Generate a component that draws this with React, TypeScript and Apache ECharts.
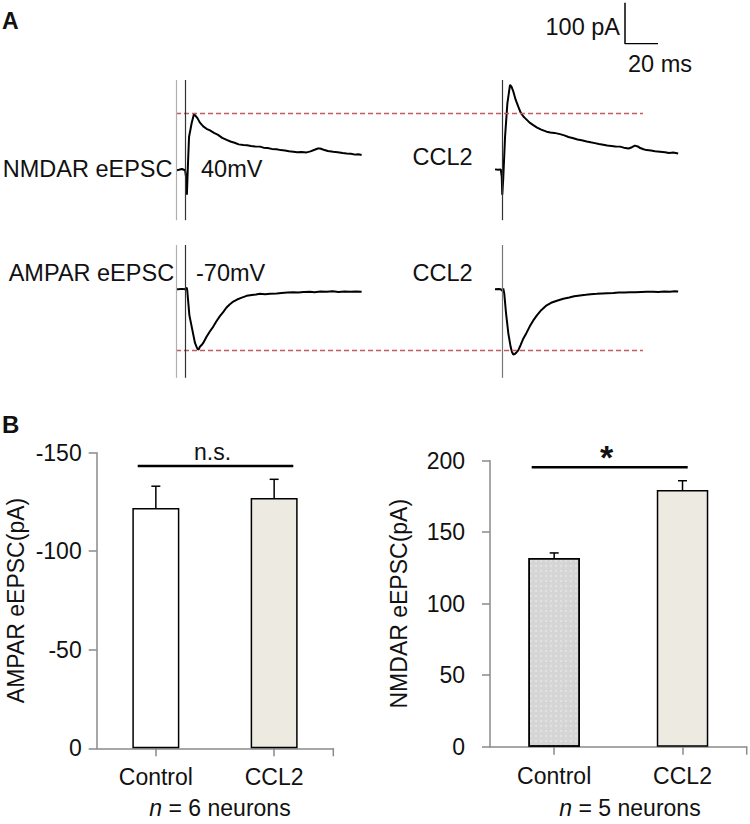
import React, { useEffect, useRef } from "react";
import * as echarts from "echarts";

const FONT = "'Liberation Sans', Arial, Helvetica, sans-serif";

// ---------- Panel A: example traces, [time (ms), current (pA)] ----------
const nmdaControl: number[][] = [
  [0.5, 0], [1.8, 1], [3.6, 3], [5.5, 0], [6.2, -20], [6.6, -60], [7.2, 10], [7.9, 81], [9.5, 115], [10.9, 137],
  [12, 132], [13, 127], [14.5, 116], [16.5, 107], [18.5, 101], [20.6, 97], [23, 91], [25.5, 86], [28, 79], [30.7, 74],
  [33, 70], [35.5, 67], [38, 63], [40.8, 61.5], [43, 61], [45.5, 59], [48, 58], [50.9, 57.5], [53, 55], [55.5, 54],
  [58, 52], [61, 51], [63.5, 49], [66, 48], [68.5, 46], [71.1, 45], [73.5, 44], [76, 44.5], [79.2, 43.4], [81.5, 46],
  [84, 50], [86, 53], [87.3, 53], [89.5, 50], [92, 47], [95.3, 45], [98, 44], [101, 42], [103.4, 41], [106, 40],
  [108.5, 38], [110.5, 39], [112.5, 37],
];
const nmdaCCL2: number[][] = [
  [0, 2], [2, 1], [3.5, 2], [4.1, -16], [4.4, -60], [5, -20], [6.1, 82], [7.5, 163], [9.1, 208], [10, 204],
  [11.1, 192], [12.5, 172], [14.1, 155], [15.5, 141], [17.2, 131], [19, 124], [21, 116], [23.2, 110], [25.5, 104], [28, 99],
  [31.3, 94], [33.5, 92], [36, 91], [39.4, 88], [42, 85], [44.5, 81], [47.5, 78], [50, 75], [52.5, 73], [55.6, 70],
  [58, 68], [60.5, 66], [63, 64], [65.6, 62], [68, 60], [70.5, 59], [73, 58], [75.8, 57.5], [78, 55], [81, 53],
  [83, 56], [84.8, 60], [86.5, 58], [88, 54], [90, 51], [91.9, 49], [94.5, 48], [97, 46], [100, 45], [103, 44],
  [105.5, 42], [108, 43], [111, 41],
];
const ampaControl: number[][] = [
  [0.5, 0], [1.4, 0], [3.5, 1], [5.5, 0], [6.5, 4], [6.8, -2], [8.1, -63], [9.9, -99], [11.5, -131], [12.4, -140],
  [13.1, -146], [13.7, -147], [14.5, -140], [15.5, -136], [16.5, -131], [18.5, -116], [20.5, -103], [22.6, -91], [24.5, -78], [26.5, -66],
  [28.7, -55], [30.5, -45], [32.5, -37], [34.7, -30], [37, -25], [39.5, -21], [42.8, -16], [46, -14], [48.5, -12.5], [50.9, -11],
  [54, -12], [57, -11], [61, -10], [64, -9], [67.5, -8], [71.1, -7.5], [74, -8], [77.5, -6.5], [81.2, -6], [84, -7],
  [87.5, -5.5], [91.3, -6], [95, -5], [98.5, -6.5], [102, -5.5], [105.5, -6], [109, -5.5], [112.5, -6],
];
const ampaCCL2: number[][] = [
  [0, 0], [2, 0.5], [3.5, 0], [4.6, -4], [5.0, 2], [5.6, -10], [6.7, -59], [8.1, -108], [9.5, -141], [10.3, -153],
  [11.1, -159], [12, -158], [13, -154], [14.1, -149], [15.5, -136], [17.2, -120], [19, -107], [21, -91], [23.2, -76], [25.5, -63],
  [28, -51], [31.3, -39], [34, -33], [37.5, -28], [41.4, -23], [45, -20], [48, -17], [51.5, -15], [55, -13.5], [58, -12],
  [61.6, -11], [65, -10], [68, -9.5], [71.7, -9], [75, -8], [78.5, -8], [81.8, -7], [85, -7.5], [88.5, -6.5], [92, -6],
  [95.9, -6], [99, -6.5], [102.5, -5.5], [106, -6], [109, -5], [111, -5.6],
];
const nmdaReference = 140; // pA, control NMDAR peak (dashed line)
const ampaReference = -148; // pA, control AMPAR peak (dashed line)
const stimControl = [0.4, 5.9]; // ms, stimulus artefact lines
const stimCCL2 = [4.1];
const scaleBar: number[][] = [[0, 100], [0, 0], [20, 0]]; // 100 pA / 20 ms

// ---------- Panel B: bar charts ----------
const categories = ["Control", "CCL2"];
const ampaMeans = [-122, -127];
const ampaErrTop = [-133, -136.5];
const ampaTicks = { min: -150, max: 0, interval: 50 };
const nmdaMeans = [132, 179.5];
const nmdaErrTop = [135.5, 186];
const nmdaTicks = { min: 0, max: 200, interval: 50 };

const PX_PER_MS = 1.65;
const PX_PER_PA = 0.41;

const hidden = { show: false };

function traceAxes(left: number, top: number, width: number, yMin: number, yMax: number) {
  return {
    grid: { left, top, width, height: (yMax - yMin) * PX_PER_PA, containLabel: false, outerBoundsMode: "none" },
    x: { type: "value", min: 0, max: width / PX_PER_MS, ...hidden },
    y: { type: "value", min: yMin, max: yMax, ...hidden },
  };
}

const errRender = (params: any, api: any) => {
  const i = api.value(0);
  const p0 = api.coord([i, api.value(1)]);
  const p1 = api.coord([i, api.value(2)]);
  const hw = 4.5;
  const st = { stroke: "#000", lineWidth: 1.5 };
  return {
    type: "group",
    children: [
      { type: "line", shape: { x1: p0[0], y1: p0[1], x2: p1[0], y2: p1[1] }, style: st },
      { type: "line", shape: { x1: p1[0] - hw, y1: p1[1], x2: p1[0] + hw, y2: p1[1] }, style: st },
    ],
  };
};

export default function App() {
  const ref = useRef<HTMLDivElement>(null);
  useEffect(() => {
    if (!ref.current) return;
    const chart = echarts.init(ref.current, undefined, { renderer: "svg" });

    const tl = traceAxes(176, 80, 467, -122, 220);
    const tr = traceAxes(495, 80, 198, -122, 220);
    const bl = traceAxes(176, 245, 467, -216, 108);
    const br = traceAxes(495, 245, 198, -216, 108);

    const axisGray = "#8a8a8a";
    const barAxisX = (labelMargin: number) => ({
      type: "category",
      data: categories,
      axisLine: { show: true, lineStyle: { color: axisGray, width: 1.5 } },
      axisTick: { show: true, alignWithLabel: true, length: 8, lineStyle: { color: axisGray, width: 1.5 } },
      axisLabel: { fontSize: 23, fontFamily: FONT, color: "#111", margin: labelMargin },
      splitLine: { show: false },
    });
    const barAxisY = (t: any, name: string, gap: number, labelMargin: number, inverse: boolean) => ({
      type: "value",
      min: t.min,
      max: t.max,
      interval: t.interval,
      inverse,
      name,
      nameLocation: "middle",
      nameRotate: 90,
      nameGap: gap,
      nameTextStyle: { fontSize: 23, fontFamily: FONT, color: "#111" },
      axisLine: { show: true, lineStyle: { color: axisGray, width: 1.5 } },
      axisTick: { show: true, length: 8, lineStyle: { color: axisGray, width: 1.5 } },
      axisLabel: { fontSize: 23, fontFamily: FONT, color: "#111", margin: labelMargin },
      splitLine: { show: false },
    });

    const traceLine = (data: number[][], axis: number, marks: any[]) => ({
      type: "line",
      xAxisIndex: axis,
      yAxisIndex: axis,
      data,
      showSymbol: false,
      symbol: "none",
      lineStyle: { color: "#000", width: 2 },
      markLine: {
        silent: true,
        symbol: ["none", "none"],
        label: { show: false },
        animation: false,
        data: marks,
      },
    });
    const refMark = (v: number) => ({ yAxis: v, lineStyle: { color: "#c65a5a", type: [5, 3], width: 1.3 } });
    const stimMark = (v: number, color: string) => ({ xAxis: v, lineStyle: { color, type: "solid", width: 1.2 } });

    const txt = (text: string, x: number, y: number, opts: any = {}) => ({
      type: "text",
      x,
      y,
      silent: true,
      style: {
        text,
        fill: "#111",
        fontSize: 23.5,
        fontFamily: FONT,
        align: "left",
        verticalAlign: "middle",
        ...opts,
      },
    });

    const option: any = {
      animation: false,
      backgroundColor: "#fff",
      grid: [
        tl.grid, tr.grid, bl.grid, br.grid,
        { left: 625, top: 2.7, width: scaleBar[2][0] * PX_PER_MS, height: scaleBar[0][1] * PX_PER_PA, containLabel: false, outerBoundsMode: "none" },
        { left: 96.7, top: 452.7, width: 236.6, height: 295.6, containLabel: false, outerBoundsMode: "none" },
        { left: 490, top: 460.7, width: 256.7, height: 286, containLabel: false, outerBoundsMode: "none" },
      ],
      xAxis: [
        { ...tl.x, gridIndex: 0 }, { ...tr.x, gridIndex: 1 }, { ...bl.x, gridIndex: 2 }, { ...br.x, gridIndex: 3 },
        { type: "value", min: 0, max: 20, gridIndex: 4, ...hidden },
        { ...barAxisX(17), gridIndex: 5 },
        { ...barAxisX(18), gridIndex: 6 },
      ],
      yAxis: [
        { ...tl.y, gridIndex: 0 }, { ...tr.y, gridIndex: 1 }, { ...bl.y, gridIndex: 2 }, { ...br.y, gridIndex: 3 },
        { type: "value", min: 0, max: 100, gridIndex: 4, ...hidden },
        { ...barAxisY(ampaTicks, "AMPAR eEPSC(pA)", 69, 15, true), gridIndex: 5 },
        { ...barAxisY(nmdaTicks, "NMDAR eEPSC(pA)", 80, 25, false), gridIndex: 6 },
      ],
      series: [
        traceLine(nmdaControl, 0, [refMark(nmdaReference), stimMark(stimControl[0], "#b0b0b0"), stimMark(stimControl[1], "#333")]),
        traceLine(nmdaCCL2, 1, [stimMark(stimCCL2[0], "#333")]),
        traceLine(ampaControl, 2, [refMark(ampaReference), stimMark(stimControl[0], "#b0b0b0"), stimMark(stimControl[1], "#333")]),
        traceLine(ampaCCL2, 3, [stimMark(stimCCL2[0], "#777")]),
        {
          type: "line", xAxisIndex: 4, yAxisIndex: 4, data: scaleBar, showSymbol: false, symbol: "none",
          lineStyle: { color: "#000", width: 1.5 },
        },
        {
          type: "bar", xAxisIndex: 5, yAxisIndex: 5, barWidth: 47,
          data: ampaMeans.map((v, i) => ({ value: v, itemStyle: { color: i === 0 ? "#ffffff" : "#ECEAE1" } })),
          itemStyle: { borderColor: "#000", borderWidth: 1.5 },
        },
        {
          type: "custom", xAxisIndex: 5, yAxisIndex: 5, renderItem: errRender, encode: { x: 0, y: 1 }, z: 5,
          data: ampaMeans.map((v, i) => [i, v, ampaErrTop[i]]),
        },
        {
          type: "bar", xAxisIndex: 6, yAxisIndex: 6, barWidth: 51.5,
          data: nmdaMeans.map((v, i) => ({
            value: v,
            itemStyle: i === 0
              ? {
                  color: "#d5d5d5",
                  decal: { symbol: "rect", symbolSize: 1, color: "rgba(255,255,255,0.3)", dashArrayX: [2, 3], dashArrayY: [2, 3], rotation: 0 },
                }
              : { color: "#ECEAE1" },
          })),
          itemStyle: { borderColor: "#000", borderWidth: 1.5 },
        },
        {
          type: "custom", xAxisIndex: 6, yAxisIndex: 6, renderItem: errRender, encode: { x: 0, y: 1 }, z: 5,
          data: nmdaMeans.map((v, i) => [i, v, nmdaErrTop[i]]),
        },
      ],
      graphic: [
        txt("A", 2, 21, { fontWeight: "bold", fontSize: 23 }),
        txt("100 pA", 620, 27, { align: "right" }),
        txt("20 ms", 628, 63.5),
        txt("NMDAR eEPSC", 2.7, 168.7),
        txt("40mV", 201, 168.5),
        txt("CCL2", 412.5, 157),
        txt("AMPAR eEPSC", 8.7, 272.5),
        txt("-70mV", 196, 272.5),
        txt("CCL2", 412.5, 273),
        txt("B", 2, 424, { fontWeight: "bold", fontSize: 24 }),
        txt("n.s.", 212.5, 451.7, { align: "center", fontSize: 23 }),
        txt("*", 606.7, 457, { align: "center", fontSize: 34, fontWeight: "bold" }),
        {
          type: "text", x: 220, y: 808, silent: true,
          style: {
            text: "{i|n} = 6 neurons", fill: "#111", fontSize: 23, fontFamily: FONT, align: "center", verticalAlign: "middle",
            rich: { i: { fontStyle: "italic", fontSize: 23, fontFamily: FONT, fill: "#111" } },
          },
        },
        {
          type: "text", x: 630, y: 808, silent: true,
          style: {
            text: "{i|n} = 5 neurons", fill: "#111", fontSize: 23, fontFamily: FONT, align: "center", verticalAlign: "middle",
            rich: { i: { fontStyle: "italic", fontSize: 23, fontFamily: FONT, fill: "#111" } },
          },
        },
        { type: "line", silent: true, shape: { x1: 137.7, y1: 466, x2: 293.3, y2: 466 }, style: { stroke: "#000", lineWidth: 2.5 } },
        { type: "line", silent: true, shape: { x1: 531.7, y1: 467.3, x2: 687.7, y2: 467.3 }, style: { stroke: "#000", lineWidth: 2.5 } },
        { type: "line", silent: true, shape: { x1: 333.3, y1: 748.3, x2: 333.3, y2: 756.3 }, style: { stroke: axisGray, lineWidth: 1.5 } },
        { type: "line", silent: true, shape: { x1: 746.7, y1: 746.7, x2: 746.7, y2: 754.7 }, style: { stroke: axisGray, lineWidth: 1.5 } },
      ],
    };

    chart.setOption(option);
    return () => chart.dispose();
  }, []);

  return <div ref={ref} style={{ position: "fixed", left: 0, top: 0, width: 750, height: 824, background: "#fff" }} />;
}
